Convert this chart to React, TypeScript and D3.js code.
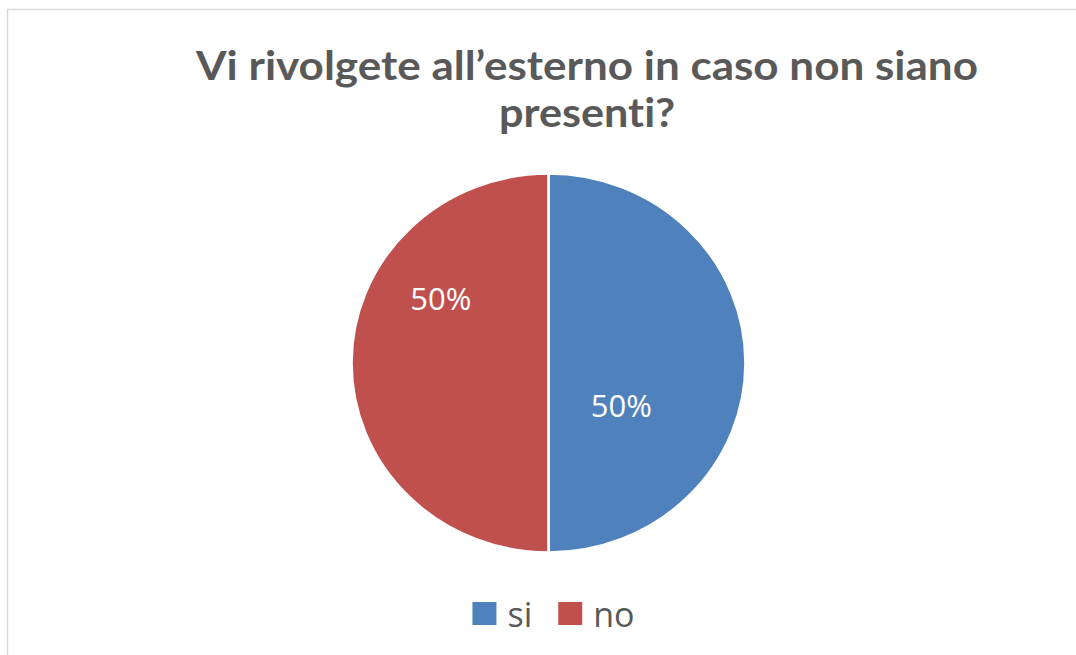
import React, { useEffect, useRef } from "react";
import * as d3 from "d3";

const categories = ["si", "no"];
const values = [50, 50];
const colors = ["#4F81BD", "#C0504D"];
const titleLines = ["Vi rivolgete all’esterno in caso non siano", "presenti?"];

const W = 1076;
const H = 655;

export default function App() {
  const ref = useRef<SVGSVGElement | null>(null);

  useEffect(() => {
    const svg = d3.select(ref.current);
    svg.selectAll("*").remove();

    // chart border
    svg
      .append("rect")
      .attr("x", 7.5)
      .attr("y", 9.5)
      .attr("width", W + 100)
      .attr("height", H + 100)
      .attr("fill", "#fff")
      .attr("stroke", "#D9D9D9")
      .attr("stroke-width", 1.5);

    // title
    const titleWidths = [782, 176];
    const titleBaselines = [80, 127];
    svg
      .append("g")
      .selectAll("text")
      .data(titleLines)
      .join("text")
      .attr("x", 587)
      .attr("y", (_d, i) => titleBaselines[i])
      .attr("text-anchor", "middle")
      .attr("font-family", "Lato, 'Open Sans', sans-serif")
      .attr("font-weight", 700)
      .attr("font-size", 40)
      .style("font-variant-ligatures", "none")
      .attr("fill", "#595959")
      .attr("textLength", (_d, i) => titleWidths[i])
      .attr("lengthAdjust", "spacingAndGlyphs")
      .text((d) => d);

    // pie
    const cx = 548.5;
    const cy = 363;
    const rx = 197;
    const ry = 189.5;
    const pie = d3
      .pie<number>()
      .sort(null)
      .value((d) => d);
    const arcs = pie(values);
    const arc = d3.arc<d3.PieArcDatum<number>>().innerRadius(0).outerRadius(rx);

    const g = svg
      .append("g")
      .attr("transform", `translate(${cx},${cy}) scale(1,${ry / rx})`);
    g.selectAll("path")
      .data(arcs)
      .join("path")
      .attr("d", arc)
      .attr("fill", (_d, i) => colors[i])
      .attr("stroke", "#fff")
      .attr("stroke-width", 2.6);

    // data labels (Excel best-fit placement: polar angle in degrees, radius)
    const labelPlacement = [
      { angle: 121, r: 85 },
      { angle: 302, r: 127 },
    ];
    const fmt = d3.format(".0%");
    const total = d3.sum(values);
    svg
      .append("g")
      .selectAll("text")
      .data(arcs)
      .join("text")
      .attr("x", (_d, i) => cx + labelPlacement[i].r * Math.sin((labelPlacement[i].angle * Math.PI) / 180))
      .attr("y", (_d, i) => cy - labelPlacement[i].r * Math.cos((labelPlacement[i].angle * Math.PI) / 180) * (ry / rx) + 11.5)
      .attr("text-anchor", "middle")
      .attr("font-family", "'Open Sans', sans-serif")
      .attr("font-size", 31)
      .attr("fill", "#fff")
      .text((d) => fmt(d.value / total));

    // legend
    const legend = svg.append("g");
    const items = legend
      .selectAll("g")
      .data(categories)
      .join("g");
    items
      .append("rect")
      .attr("x", 0)
      .attr("y", 602)
      .attr("width", 24)
      .attr("height", 23)
      .attr("fill", (_d, i) => colors[i]);
    items
      .append("text")
      .attr("x", 35)
      .attr("y", 627)
      .attr("font-family", "'Open Sans', sans-serif")
      .attr("font-size", 34)
      .attr("fill", "#595959")
      .text((d) => d);

    const widths: number[] = [];
    items.each(function () {
      const t = d3.select(this).select("text").node() as SVGTextElement;
      widths.push(35 + t.getComputedTextLength());
    });
    const gap = 26;
    const totalW = d3.sum(widths) + gap * (widths.length - 1);
    let x = 553.5 - totalW / 2;
    items.attr("transform", (_d, i) => {
      const tx = x;
      x += widths[i] + gap;
      return `translate(${tx},0)`;
    });
  }, []);

  return (
    <svg
      ref={ref}
      width={W}
      height={H}
      style={{ position: "absolute", left: 0, top: 0, background: "#fff" }}
    />
  );
}
